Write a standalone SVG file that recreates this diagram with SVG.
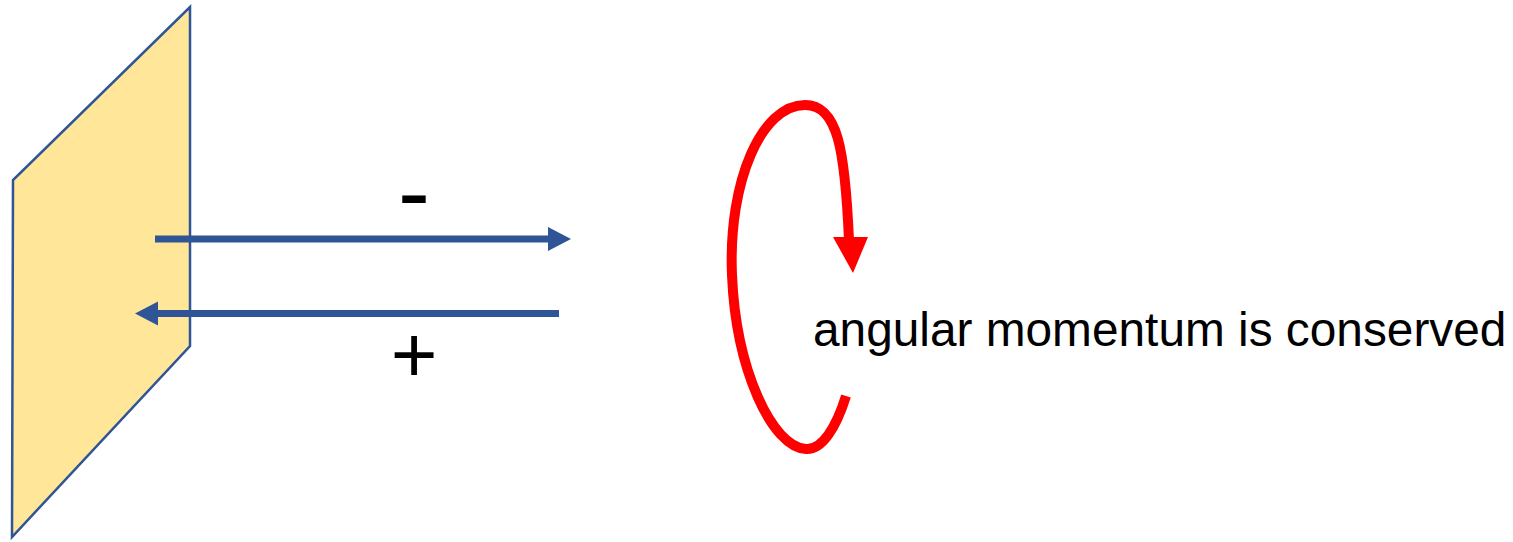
<svg xmlns="http://www.w3.org/2000/svg" width="1513" height="542" viewBox="0 0 1513 542">
<style>
.blue{stroke:#2F5597;fill:none;stroke-width:7}
.lbl{font-family:"Liberation Sans",Arial,sans-serif;fill:#000}
</style>
<defs>
<marker id="ah" markerUnits="userSpaceOnUse" markerWidth="24" markerHeight="24" refX="1" refY="12" orient="auto" overflow="visible">
<path d="M0,0 L23,12 L0,24 Z" fill="#2F5597"/>
</marker>
</defs>
<rect width="1513" height="542" fill="#fff"/>
<g id="plate">
<polygon points="190,7 190,346 12,537 13,180" fill="#FFE699" stroke="#2F5597" stroke-width="2.5" stroke-linejoin="miter"/>
</g>
<g id="connectors">
<line class="blue" x1="155" y1="239" x2="549" y2="239" marker-end="url(#ah)"/>
<line class="blue" x1="559" y1="313.5" x2="157" y2="313.5" marker-end="url(#ah)"/>
</g>
<g id="minus"><text class="lbl" x="414" y="225" font-size="96" text-anchor="middle">-</text></g>
<g id="plus"><text class="lbl" x="414" y="382" font-size="80" text-anchor="middle">+</text></g>
<g id="rotation">
<path d="M846,396 C836,428 822,450 806,449 C772,447 736,370 732,275 C728,180 762,105 805,105 C838,105 845,150 849,240" fill="none" stroke="#FF0000" stroke-width="10" stroke-linecap="butt"/>
<polygon points="833,237 868,237 853,273" fill="#FF0000"/>
</g>
<g id="caption"><text class="lbl" x="813" y="346" font-size="47.8">angular momentum is conserved</text></g>
</svg>
